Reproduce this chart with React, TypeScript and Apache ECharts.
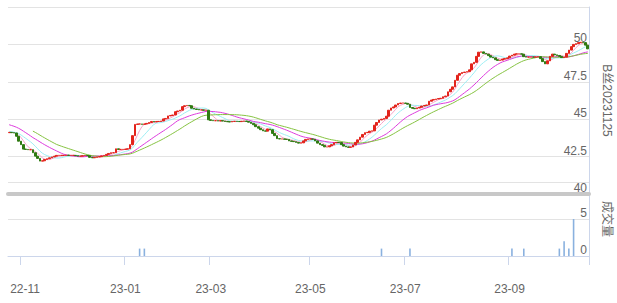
import React, { useEffect, useRef } from "react";
import * as echarts from "echarts";

// trading days per month (categories)
const monthDays: [string, number[]][] = [
  ["2022-10", [25, 26, 27, 28, 31]],
  ["2022-11", [1, 2, 3, 4, 7, 8, 9, 10, 11, 14, 15, 16, 17, 18, 21, 22, 23, 24, 25, 28, 29, 30]],
  ["2022-12", [1, 2, 5, 6, 7, 8, 9, 12, 13, 14, 15, 16, 19, 20, 21, 22, 23, 26, 27, 28, 29, 30]],
  ["2023-01", [3, 4, 5, 6, 9, 10, 11, 12, 13, 16, 17, 18, 19, 20, 30, 31]],
  ["2023-02", [1, 2, 3, 6, 7, 8, 9, 10, 13, 14, 15, 16, 17, 20, 21, 22, 23, 24, 27, 28]],
  ["2023-03", [1, 2, 3, 6, 7, 8, 9, 10, 13, 14, 15, 16, 17, 20, 21, 22, 23, 24, 27, 28, 29, 30, 31]],
  ["2023-04", [3, 4, 6, 7, 10, 11, 12, 13, 14, 17, 18, 19, 20, 21, 24, 25, 26, 27, 28]],
  ["2023-05", [4, 5, 8, 9, 10, 11, 12, 15, 16, 17, 18, 19, 22, 23, 24, 25, 26, 29, 30, 31]],
  ["2023-06", [1, 2, 5, 6, 7, 8, 9, 12, 13, 14, 15, 16, 19, 20, 21, 26, 27, 28, 29, 30]],
  ["2023-07", [3, 4, 5, 6, 7, 10, 11, 12, 13, 14, 17, 18, 19, 20, 21, 24, 25, 26, 27, 28, 31]],
  ["2023-08", [1, 2, 3, 4, 7, 8, 9, 10, 11, 14, 15, 16, 17, 18, 21, 22, 23, 24, 25, 28, 29, 30, 31]],
  ["2023-09", [1, 4, 5, 6, 7, 8, 11, 12, 13, 14, 15, 18, 19, 20, 21, 22, 25, 26, 27, 28]],
  ["2023-10", [9, 10, 11, 12, 13, 16, 17, 18, 19, 20, 23, 24, 25, 26]],
];

// closes before the visible window (only used for moving averages)
const historyCloses = [
  45.1, 45.1, 45.1, 45.05, 45.05, 45.1, 45.05, 45.05, 45.1, 45.04,
  44.4, 44.3, 44.2, 44.2, 44.15, 44.15, 44.12, 44.12, 44.1,
];

// daily closes
const closes = [
  44.12, 44.10, 44.08, 43.86, 43.53, 43.30, 43.00, 42.98, 42.96, 42.96,
  42.76, 42.53, 42.38, 42.20, 42.22, 42.31, 42.36, 42.42, 42.48, 42.53,
  42.58, 42.58, 42.58, 42.58, 42.60, 42.58, 42.58, 42.58, 42.56, 42.53,
  42.53, 42.56, 42.58, 42.56, 42.45, 42.42, 42.45, 42.48, 42.50, 42.55,
  42.58, 42.65, 42.71, 42.76, 42.76, 43.02, 42.98, 42.98, 42.98, 43.00,
  43.02, 43.30, 43.90, 44.65, 44.68, 44.68, 44.66, 44.68, 44.72, 44.78,
  44.85, 44.82, 44.85, 44.85, 44.88, 45.02, 45.05, 45.22, 45.25, 45.28,
  45.50, 45.55, 45.60, 45.84, 45.90, 45.92, 45.90, 45.73, 45.68, 45.65,
  45.62, 45.62, 45.60, 45.60, 44.96, 44.92, 44.90, 44.90, 44.88, 44.90,
  44.88, 44.85, 44.83, 44.82, 44.85, 44.86, 44.85, 44.84, 44.86, 44.88,
  44.85, 44.80, 44.72, 44.63, 44.50, 44.40, 44.30, 44.22, 44.20, 44.35,
  44.30, 44.05, 43.90, 43.70, 43.68, 43.68, 43.66, 43.65, 43.55, 43.52,
  43.50, 43.45, 43.40, 43.42, 43.55, 43.65, 43.68, 43.68, 43.66, 43.55,
  43.40, 43.30, 43.25, 43.15, 43.15, 43.22, 43.30, 43.42, 43.45, 43.44,
  43.30, 43.20, 43.15, 43.12, 43.14, 43.28, 43.45, 43.62, 43.80, 43.98,
  44.10, 44.12, 44.20, 44.22, 44.60, 44.78, 44.95, 45.00, 45.05, 45.20,
  45.60, 45.75, 45.82, 45.95, 46.05, 46.08, 46.08, 46.06, 46.00, 45.78,
  45.73, 45.70, 45.75, 45.80, 45.88, 45.92, 45.95, 46.20, 46.28, 46.32,
  46.35, 46.38, 46.40, 46.50, 46.55, 46.83, 47.00, 47.16, 47.60, 47.94,
  48.05, 48.12, 48.15, 48.18, 48.30, 48.70, 48.80, 49.20, 49.48, 49.50,
  49.40, 49.35, 49.25, 49.15, 49.10, 48.98, 48.93, 48.95, 49.02, 49.05,
  49.10, 49.22, 49.28, 49.35, 49.37, 49.37, 49.35, 49.18, 49.15, 49.15,
  49.16, 49.15, 49.16, 49.18, 49.05, 48.85, 48.70, 48.90, 49.20, 49.35,
  49.30, 49.26, 49.20, 49.12, 49.15, 49.40, 49.62, 49.85, 50.00, 50.05,
  50.12, 50.14, 50.12, 49.95, 49.70,
];

// traded volume (days with trades only)
const volumeDays = [
  "2023-01-11", "2023-01-13", "2023-06-15", "2023-07-05", "2023-09-04",
  "2023-09-11", "2023-10-10", "2023-10-12", "2023-10-16", "2023-10-18",
];
const volumeValues = [1, 1, 1, 1, 1, 1, 1, 2, 1, 5];

const maPeriods = [5, 10, 20, 30];
const maColors = ["#f6a3c9", "#9deef4", "#dd3ddd", "#86c342"];

const priceTicks = [40, 42.5, 45, 47.5, 50, 52.5];
const volumeTicks = [0, 5, 10];

const pad = (n: number) => (n < 10 ? "0" + n : "" + n);
const dates: string[] = [];
monthDays.forEach(([m, days]) => days.forEach((d) => dates.push(m + "-" + pad(d))));

const labelIdx = new Set<number>();
dates.forEach((d, i) => {
  if (i === 0) return;
  const m = +d.slice(5, 7);
  if (d.slice(0, 7) !== dates[i - 1].slice(0, 7) && m % 2 === 1) labelIdx.add(i);
});
const firstLabel = Math.min(...Array.from(labelIdx));

const FONT = 'Arial, "Liberation Sans", "Noto Sans CJK SC", sans-serif';

export default function App() {
  const ref = useRef<HTMLDivElement>(null);
  useEffect(() => {
    if (!ref.current) return;
    const chart = echarts.init(ref.current, undefined, { renderer: "svg" });
    const all = historyCloses.concat(closes);
    const off = historyCloses.length;
    const candles = closes.map((c, i) => {
      const o = i === 0 ? historyCloses[historyCloses.length - 1] : closes[i - 1];
      return [o, c, Math.min(o, c), Math.max(o, c)];
    });
    const maSeries = maPeriods.map((n, k) => {
      const data = closes.map((_, i) => {
        const end = i + off;
        const start = end - n + 1;
        if (start < 0) return "-";
        let s = 0;
        for (let j = start; j <= end; j++) s += all[j];
        return +(s / n).toFixed(3);
      });
      return {
        type: "line",
        name: "MA" + n,
        data,
        xAxisIndex: 0,
        yAxisIndex: 0,
        showSymbol: false,
        symbol: "none",
        lineStyle: { width: 1, color: maColors[k] },
        z: 1,
      };
    });
    const axisLabelStyle = {
      color: "#666",
      fontSize: 12,
      fontFamily: FONT,
    };
    chart.setOption({
      animation: false,
      grid: [
        { left: 8, right: 28, top: 7, height: 187, containLabel: false, outerBoundsMode: "none" },
        { left: 8, right: 28, top: 182, height: 74, containLabel: false, outerBoundsMode: "none" },
      ],
      xAxis: [
        {
          type: "category",
          gridIndex: 0,
          data: dates,
          axisLine: { show: true, lineStyle: { color: "#c8c8c8", width: 4 } },
          axisTick: { show: false },
          axisLabel: { show: false },
          splitLine: { show: false },
        },
        {
          type: "category",
          gridIndex: 1,
          data: dates,
          offset: 18,
          axisLine: { show: true, lineStyle: { color: "#ccd6eb", width: 1 } },
          axisTick: {
            show: true,
            length: 9,
            lineStyle: { color: "#ccd6eb" },
            interval: (i: number) => labelIdx.has(i),
          },
          axisLabel: {
            ...axisLabelStyle,
            margin: 9,
            interval: (i: number) => labelIdx.has(i),
            formatter: (v: string, i: number) => {
              const t = v.slice(2, 7);
              return i === firstLabel ? "{a|" + t + "}" : t;
            },
            rich: { a: { ...axisLabelStyle, padding: [0, 0, 0, 8] } },
          },
          splitLine: { show: false },
        },
      ],
      yAxis: [
        {
          type: "value",
          gridIndex: 0,
          position: "right",
          min: priceTicks[0],
          max: priceTicks[priceTicks.length - 1],
          interval: 2.5,
          axisLine: { show: true, lineStyle: { color: "#ccd6eb" } },
          axisTick: { show: false },
          splitLine: { lineStyle: { color: "#e3e3e3" } },
          axisLabel: {
            ...axisLabelStyle,
            inside: true,
            verticalAlign: "bottom",
            margin: 2,
            formatter: (v: number) => (v === priceTicks[priceTicks.length - 1] ? "" : String(v)),
          },
          name: "B丝20231125",
          nameLocation: "middle",
          nameRotate: -90,
          nameGap: 12,
          nameTextStyle: { color: "#666", fontSize: 12, fontFamily: FONT },
        },
        {
          type: "value",
          gridIndex: 1,
          position: "right",
          min: volumeTicks[0],
          max: volumeTicks[volumeTicks.length - 1],
          interval: 5,
          axisLine: { show: true, lineStyle: { color: "#ccd6eb" } },
          axisTick: { show: false },
          splitLine: { lineStyle: { color: "#e3e3e3" } },
          axisLabel: {
            ...axisLabelStyle,
            inside: true,
            verticalAlign: "bottom",
            margin: 2,
            formatter: (v: number) => (v === volumeTicks[volumeTicks.length - 1] ? "" : String(v)),
          },
          name: "成交量",
          nameLocation: "middle",
          nameRotate: -90,
          nameGap: 12,
          nameTextStyle: { color: "#666", fontSize: 12, fontFamily: FONT },
        },
      ],
      series: [
        ...maSeries,
        {
          type: "candlestick",
          name: "price",
          xAxisIndex: 0,
          yAxisIndex: 0,
          data: candles,
          barWidth: "90%",
          itemStyle: {
            color: "#e3231b",
            color0: "#2f7a12",
            borderColor: "#e3231b",
            borderColor0: "#2f7a12",
            borderWidth: 1,
          },
          z: 3,
        },
        {
          type: "bar",
          name: "volume",
          xAxisIndex: 1,
          yAxisIndex: 1,
          data: volumeDays.map((d, i) => [d, volumeValues[i]]),
          barWidth: 1.6,
          itemStyle: { color: "#8ab1df" },
        },
      ],
    });
    return () => chart.dispose();
  }, []);
  return (
    <div
      ref={ref}
      style={{ position: "fixed", left: 0, top: 0, width: 617, height: 303, background: "#fff" }}
    />
  );
}
